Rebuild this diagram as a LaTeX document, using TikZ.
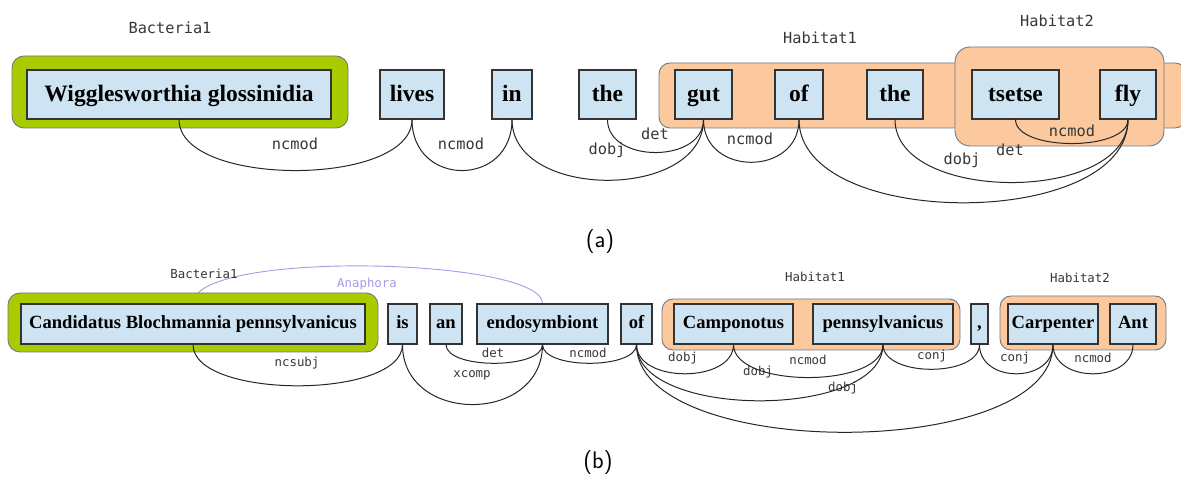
\documentclass[tikz,border=0pt]{standalone}
\usepackage{fontspec}
\setmainfont{Liberation Serif}
\newfontfamily\monof{DejaVu Sans Mono}
\pgfdeclarelayer{anaph}
\pgfdeclarelayer{frames}
\pgfsetlayers{anaph,frames,main}
\definecolor{wordfill}{RGB}{206,228,242}
\definecolor{greenfill}{RGB}{168,204,0}
\definecolor{orangefill}{RGB}{252,200,158}
\definecolor{framegray}{RGB}{112,122,134}
\definecolor{anaphc}{RGB}{165,155,230}
\definecolor{labelc}{RGB}{55,55,55}
\newcommand\depArc[3]{\draw[arcline] (#1.south) .. controls +(0,#3) and +(0,#3) .. (#2.south);}
\begin{document}
\begin{tikzpicture}[x=1pt,y=-1pt,
  wordA/.style={draw=black!80, fill=wordfill, line width=1.1pt, inner sep=0pt, minimum height=49, text height=16.5pt, text depth=1.5pt, font=\fontsize{23.5}{23.5}\selectfont\bfseries},
  wordB/.style={draw=black!80, fill=wordfill, line width=1.1pt, inner sep=0pt, minimum height=40, text height=12pt, text depth=2pt, font=\fontsize{18.6}{18.6}\selectfont\bfseries},
  gframe/.style={draw=framegray, fill=greenfill, line width=0.9pt, rounded corners=12pt, inner sep=0pt},
  oframe/.style={draw=framegray, fill=orangefill, line width=0.9pt, rounded corners=11pt, inner sep=0pt},
  lblA/.style={text=labelc, inner sep=0pt, font=\monof\fontsize{15.3}{15.3}\selectfont},
  lblB/.style={text=labelc, inner sep=0pt, font=\monof\fontsize{12.4}{12.4}\selectfont},
  caption/.style={inner sep=0pt, font=\sffamily\fontsize{24}{24}\selectfont},
  arcline/.style={draw=black!85, line width=1pt}]
\useasboundingbox (0,0) rectangle (1181,478);
% ---------------- frames ----------------
\begin{pgfonlayer}{frames}
\node[gframe, minimum width=336, minimum height=72] (ga) at (180,92) {};
\node[oframe, minimum width=527, minimum height=65] (h1a) at (922.5,95.5) {};
\node[oframe, rounded corners=15pt, minimum width=209, minimum height=99] (h2a) at (1059.5,96.5) {};
\node[gframe, minimum width=370, minimum height=59] (gb) at (193,322.5) {};
\node[oframe, minimum width=298, minimum height=51] (h1b) at (811,324.5) {};
\node[oframe, minimum width=166, minimum height=54] (h2b) at (1083,323) {};
\end{pgfonlayer}
% ---------------- panel (a) words ----------------
\node[wordA, minimum width=304] (w1) at (179,94.5) {Wigglesworthia glossinidia};
\node[wordA, minimum width=64] (w2) at (412,94.5) {lives};
\node[wordA, minimum width=40] (w3) at (512,94.5) {in};
\node[wordA, minimum width=57] (w4) at (607.5,94.5) {the};
\node[wordA, minimum width=57] (w5) at (703.5,94.5) {gut};
\node[wordA, minimum width=48] (w6) at (799,94.5) {of};
\node[wordA, minimum width=56] (w7) at (895,94.5) {the};
\node[wordA, minimum width=87] (w8) at (1015.5,94.5) {tsetse};
\node[wordA, minimum width=56] (w9) at (1128,94.5) {fly};
% labels (a)
\node[lblA] (la1) at (170,28) {Bacteria1};
\node[lblA] (la2) at (820,38) {Habitat1};
\node[lblA] (la3) at (1057,21) {Habitat2};
\node[lblA] (la4) at (295,144) {ncmod};
\node[lblA] (la5) at (461,144) {ncmod};
\node[lblA] (la6) at (655,134) {det};
\node[lblA] (la7) at (607,150) {dobj};
\node[lblA] (la8) at (750,139) {ncmod};
\node[lblA] (la9) at (1072,131) {ncmod};
\node[lblA] (la10) at (1010,150) {det};
\node[lblA] (la11) at (962,160) {dobj};
\node[caption] (capa) at (600,242) {(a)};
% arcs (a)
\depArc{w1}{w2}{68}
\depArc{w2}{w3}{68}
\depArc{w4}{w5}{44}
\depArc{w3}{w5}{81}
\depArc{w5}{w6}{57}
\depArc{w8}{w9}{32}
\depArc{w7}{w9}{84}
\depArc{w6}{w9}{111}
% ---------------- panel (b) words ----------------
\node[wordB, minimum width=344] (b1) at (193,324) {Candidatus Blochmannia pennsylvanicus};
\node[wordB, minimum width=29] (b2) at (402.5,324) {is};
\node[wordB, minimum width=32] (b3) at (446,324) {an};
\node[wordB, minimum width=131] (b4) at (542.5,324) {endosymbiont};
\node[wordB, minimum width=31] (b5) at (636.5,324) {of};
\node[wordB, minimum width=119] (b6) at (733.5,324) {Camponotus};
\node[wordB, minimum width=140] (b7) at (883,324) {pennsylvanicus};
\node[wordB, minimum width=17] (b8) at (979.5,324) {,};
\node[wordB, minimum width=90] (b9) at (1053,324) {Carpenter};
\node[wordB, minimum width=46] (b10) at (1133,324) {Ant};
% labels (b)
\node[lblB] (lb1) at (204,274) {Bacteria1};
\node[lblB, text=anaphc] (lb2) at (367,284) {Anaphora};
\node[lblB] (lb3) at (815,277) {Habitat1};
\node[lblB] (lb4) at (1080,278) {Habitat2};
\node[lblB] (lb5) at (297,363) {ncsubj};
\node[lblB] (lb6) at (493,353) {det};
\node[lblB] (lb7) at (472,375) {xcomp};
\node[lblB] (lb8) at (588,353) {ncmod};
\node[lblB] (lb9) at (683,358) {dobj};
\node[lblB] (lb10) at (758,372) {dobj};
\node[lblB] (lb11) at (808,360) {ncmod};
\node[lblB] (lb12) at (843,388) {dobj};
\node[lblB] (lb13) at (932,356) {conj};
\node[lblB] (lb14) at (1015,358) {conj};
\node[lblB] (lb15) at (1093,358) {ncmod};
\node[caption] (capb) at (598,463) {(b)};
% arcs (b)
\depArc{b1}{b2}{55}
\depArc{b3}{b4}{25}
\depArc{b2}{b4}{80}
\depArc{b4}{b5}{25}
\depArc{b5}{b6}{39}
\depArc{b6}{b7}{44}
\depArc{b5}{b7}{75}
\depArc{b7}{b8}{33}
\depArc{b8}{b9}{39}
\depArc{b9}{b10}{39}
\depArc{b5}{b9}{117}
% anaphora
\begin{pgfonlayer}{anaph}
\draw[draw=anaphc, line width=0.9pt] (b1.north) .. controls +(0,-54) and +(0,-46) .. (b4.north);
\end{pgfonlayer}
\end{tikzpicture}
\end{document}
